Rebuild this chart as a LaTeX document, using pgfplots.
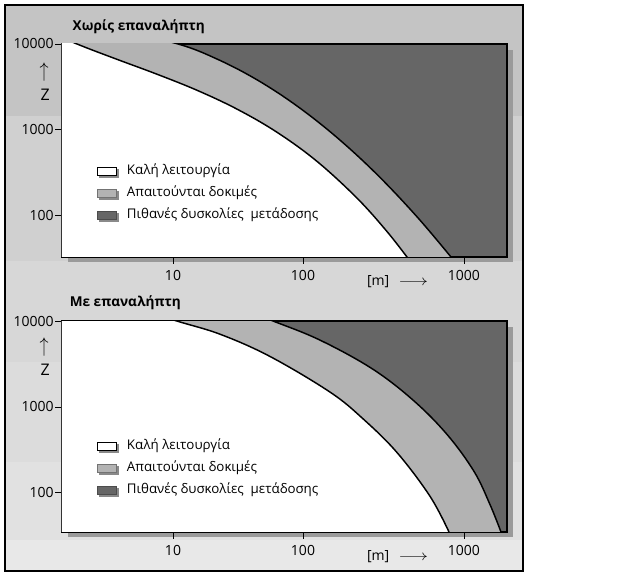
\documentclass[border=0pt]{standalone}
\usepackage{fontspec}
\setmainfont{Open Sans}
\usepackage{graphicx}
\usepackage{pgfplots}
\pgfplotsset{compat=1.18}

\definecolor{bandA}{HTML}{C4C4C4}
\definecolor{bandB}{HTML}{D0D0D0}
\definecolor{bandC}{HTML}{D7D7D7}
\definecolor{bandD}{HTML}{DCDCDC}
\definecolor{bandE}{HTML}{E1E1E1}
\definecolor{bandF}{HTML}{E8E8E8}
\definecolor{darkfill}{HTML}{666666}
\definecolor{midfill}{HTML}{B3B3B3}
\definecolor{boxshadow}{HTML}{9A9A9A}
\definecolor{legshadow}{HTML}{8A8A8A}

% curves: distance [m] vs Z
% (first row of each lies outside the frame, so the fill reaches the corner)
\pgfplotstableread{
x y
0.899 15950
1.826 10000
3.709 6628
7.53 4446
15.30 2890
31.07 1744
63.10 936.9
122.2 428.9
216.5 160.2
332.4 65.4
455.4 30.7
}\topinner
\pgfplotstableread{
x y
1.35 19040
3.775 14210
10.93 10000
22.19 6598
45.07 3767
91.53 1860
165.0 795.0
292.3 294.5
518.0 94.2
854.5 30.9
}\topouter
\pgfplotstableread{
x y
1.0 40000
4.67 14950
10.7 10000
23.0 7018
55.7 3869
147.1 1489
235.9 727.6
383.7 294.5
615.0 91.2
807.0 35
}\botinner
\pgfplotstableread{
x y
1.0 60000
23.0 17100
58.8 10000
127.5 5992
268.3 2789
482.3 1201
784.5 478.7
1153.4 178.0
1450 73.2
1698 35
}\botouter

% the distance axis of the original is not evenly spaced per decade
\newcommand\distmap[1]{%
  \pgfmathsetmacro\tmpt{log10(#1)}%
  \pgfmathparse{\tmpt<2 ? 130*(\tmpt-1) : 130+161*(\tmpt-2)}}

\pgfplotsset{
  chartpanel/.style={
    scale only axis, width=333.75pt,
    xmin=1.4, xmax=1850, ymax=10000,
    xtick={10,100,1000}, xticklabels={10,100,1000},
    ytick={100,1000,10000}, yticklabels={100,1000,10000},
    minor tick num=0, yminorticks=false,
    tick align=outside, tick pos=left,
    major tick length=5pt,
    tick style={black, line width=0.6pt},
    axis line style={black, line width=0.8pt},
    axis background/.style={fill=darkfill},
    /pgf/number format/assume math mode=true,
    ticklabel style={font=\fontsize{10.5}{12}\selectfont},
    xticklabel style={anchor=base, yshift=-12.75pt},
    yticklabel style={anchor=east, inner sep=0pt, xshift=-1pt},
    xlabel={[m]\hspace{7pt}\scalebox{1.25}[1]{$\longrightarrow$}},
    xlabel style={at={(rel axis cs:0.754,0)}, anchor=base, yshift=-21.75pt,
      font=\fontsize{10.5}{12}\selectfont},
    ylabel={\rotatebox{90}{\scalebox{1.3}[1]{$\rightarrow$}}\\[1pt]Z},
    ylabel style={rotate=-90, anchor=center, align=center,
      font=\fontsize{12}{13}\selectfont},
    every axis title shift=0pt,
    legend style={anchor=north west, draw=none, fill=none,
      inner sep=0pt, row sep=3.5pt, column sep=5pt,
      font=\fontsize{10}{12}\selectfont,
      nodes={inner sep=1pt, text height=8pt, text depth=3pt}},
    legend cell align=left,
  },
  regionline/.style={black, line width=1.1pt, smooth, tension=0.6, forget plot},
  regionfill/.style={draw=none, smooth, tension=0.6, forget plot},
  boxwhite/.style={legend image code/.code={
    \fill[legshadow] (1.5pt,-4.5pt) rectangle (15.75pt,1.5pt);
    \filldraw[fill=white, draw=black, line width=0.6pt] (0pt,-3pt) rectangle (14.25pt,3pt);}},
  boxmid/.style={legend image code/.code={
    \fill[legshadow] (1.5pt,-4.5pt) rectangle (15.75pt,1.5pt);
    \filldraw[fill=midfill, draw=black!55, line width=0.6pt] (0pt,-3pt) rectangle (14.25pt,3pt);}},
  boxdark/.style={legend image code/.code={
    \fill[legshadow] (1.5pt,-4.5pt) rectangle (15.75pt,1.5pt);
    \filldraw[fill=darkfill, draw=black!70, line width=0.6pt] (0pt,-3pt) rectangle (14.25pt,3pt);}},
}

\begin{document}
\begin{tikzpicture}
\path[use as bounding box] (0,0) rectangle (480pt,-432.75pt);
\begin{scope}[x=0.75pt, y=-0.75pt]
  \fill[bandA] (5,5) rectangle (523,116);
  \fill[bandB] (5,116) rectangle (523,261);
  \fill[bandC] (5,261) rectangle (523,362);
  \fill[bandD] (5,362) rectangle (523,462);
  \fill[bandE] (5,462) rectangle (523,540);
  \fill[bandF] (5,540) rectangle (523,571);
  \draw[black, line width=0.8pt] (5,5) rectangle (523,571);
  \fill[boxshadow] (68,50) rectangle (513,262);
  \fill[boxshadow] (68,327) rectangle (513,537);
\end{scope}

\begin{axis}[chartpanel, ymode=log,
  x coord trafo/.code={\distmap{#1}},
  at={(46.5pt,-192.75pt)}, anchor=south west,
  height=159.75pt, ymin=33,
  title={Χωρίς επαναλήπτη},
  title style={at={(rel axis cs:0.0135,1.08)}, anchor=west,
    font=\bfseries\fontsize{10.2}{12}\selectfont},
  ylabel style={at={(rel axis cs:-0.038,0.826)}},
  legend style={at={(rel axis cs:0.0787,0.446)}},
]
\addlegendimage{boxwhite}
\addlegendentry{Καλή λειτουργία}
\addlegendimage{boxmid}
\addlegendentry{Απαιτούνται δοκιμές}
\addlegendimage{boxdark}
\addlegendentry{Πιθανές δυσκολίες\ \ μετάδοσης}

\addplot[regionfill, fill=midfill] table {\topouter} \closedcycle;
\addplot[regionfill, fill=white] table {\topinner} \closedcycle;
\addplot[regionline] table {\topouter};
\addplot[regionline] table {\topinner};
\end{axis}

\begin{axis}[chartpanel, ymode=log,
  x coord trafo/.code={\distmap{#1}},
  at={(46.5pt,-399pt)}, anchor=south west,
  height=158.25pt, ymin=35,
  title={Με επαναλήπτη},
  title style={at={(rel axis cs:0.007,1.085)}, anchor=west,
    font=\bfseries\fontsize{10.2}{12}\selectfont},
  ylabel style={at={(rel axis cs:-0.038,0.834)}},
  legend style={at={(rel axis cs:0.0787,0.450)}},
]
\addlegendimage{boxwhite}
\addlegendentry{Καλή λειτουργία}
\addlegendimage{boxmid}
\addlegendentry{Απαιτούνται δοκιμές}
\addlegendimage{boxdark}
\addlegendentry{Πιθανές δυσκολίες\ \ μετάδοσης}

\addplot[regionfill, fill=midfill] table {\botouter} \closedcycle;
\addplot[regionfill, fill=white] table {\botinner} \closedcycle;
\addplot[regionline] table {\botouter};
\addplot[regionline] table {\botinner};
\end{axis}
\end{tikzpicture}
\end{document}
